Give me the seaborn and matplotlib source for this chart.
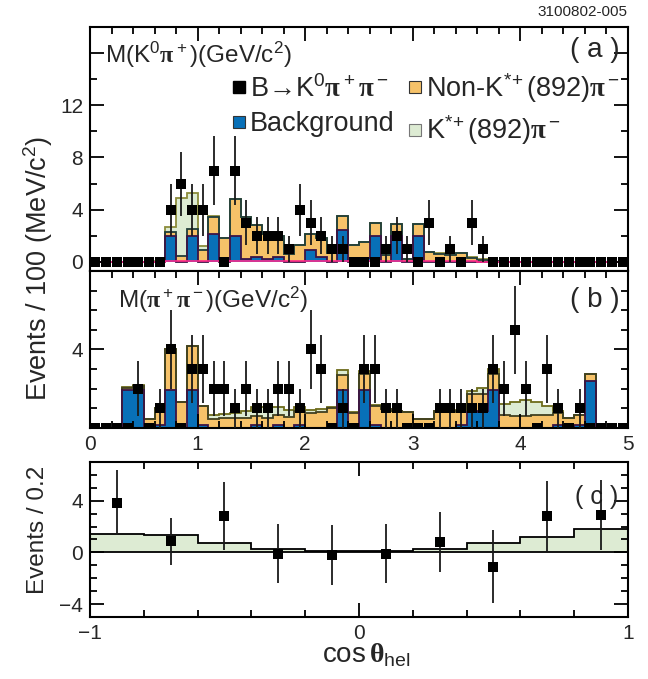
import numpy as np
import pandas as pd
import matplotlib.pyplot as plt
import seaborn as sns
from matplotlib.lines import Line2D
from matplotlib.ticker import MultipleLocator, FixedLocator, FuncFormatter

sns.set_style("ticks")
plt.rcParams['font.family'] = ['Liberation Sans', 'DejaVu Sans']
plt.rcParams['mathtext.fontset'] = 'custom'
plt.rcParams['mathtext.rm'] = 'Liberation Sans'
plt.rcParams['mathtext.it'] = 'Liberation Sans'
plt.rcParams['mathtext.bf'] = 'Liberation Serif:bold'

# 100 MeV bins for the two mass projections, 0.2 bins for cos(theta_hel)
mass_edges = np.linspace(0, 5, 51)
cos_edges = np.linspace(-1, 1, 11)

# (a) M(K0 pi+)
data_a = [0, 0, 0, 0, 0, 0, 0, 4, 6, 4,
          4, 7, 0, 7, 3, 2, 2, 2, 1, 4,
          3, 2, 1, 1, 0, 0, 0, 1, 2, 1,
          0, 3, 0, 1, 0, 3, 1, 0, 0, 0,
          0, 0, 0, 0, 0, 0, 0, 0, 0, 0]
bkg_a = [0, 0, 0, 0, 0, 0, 0, 2.0, 0, 2.0,
         0, 2.15, 0, 2.0, 0.25, 0.4, 0.25, 0.4, 0, 0,
         0.9, 0.4, 0, 2.45, 0, 0.3, 2.0, 0, 2.0, 0,
         2.0, 0, 0, 0, 0, 0, 0, 0, 0, 0,
         0, 0, 0, 0, 0, 0, 0, 0, 0, 0]
nonk_a = [0, 0, 0, 0, 0, 0, 0, 0.3, 0.45, 0.5,
          0.9, 1.28, 1.85, 2.85, 3.15, 2.43, 1.85, 1.6, 0.6, 1.3,
          1.25, 1.4, 0.65, 1.1, 1.32, 1.2, 0.97, 0.5, 0.9, 0.25,
          0.9, 0.76, 0.62, 0.5, 0.69, 0.3, 0.18, 0.05, 0, 0,
          0, 0, 0, 0, 0, 0, 0, 0, 0, 0]
kst_a = [0, 0, 0, 0, 0, 0, 0.1, 0.4, 4.45, 2.77,
         0.3, 0.07, 0, 0, 0, 0, 0, 0, 0, 0,
         0, 0, 0, 0, 0, 0, 0, 0, 0, 0,
         0, 0, 0.07, 0.1, 0, 0.08, 0.05, 0, 0, 0,
         0, 0, 0, 0, 0, 0, 0, 0, 0, 0]
other_a = [0, 0, 0, 0, 0, 0, 0, 0.04, 0.04, 0.04,
           0.04, 0.04, 0.04, 0.04, 0.04, 0.04, 0.04, 0.04, 0.04, 0.04,
           0.04, 0.04, 0.04, 0.04, 0.04, 0.04, 0.04, 0.04, 0.04, 0.04,
           0.04, 0.04, 0.04, 0.04, 0.04, 0.04, 0, 0, 0, 0,
           0, 0, 0, 0, 0, 0, 0, 0, 0, 0]

# (b) M(pi+ pi-)
data_b = [0, 0, 0, 0, 2, 0, 1, 4, 0, 3,
          3, 2, 2, 1, 2, 1, 1, 2, 2, 1,
          4, 3, 0, 1, 0, 3, 3, 1, 1, 0,
          0, 0, 1, 1, 1, 1, 1, 3, 2, 5,
          2, 0, 3, 1, 0, 1, 0, 0, 0, 0]
bkg_b = [0, 0, 0, 1.95, 1.95, 0, 0.15, 1.95, 0, 1.95,
         0.15, 0, 0, 0, 0, 0.15, 0, 0.17, 0, 0.17,
         0, 0, 0, 1.95, 0, 1.95, 0.15, 0, 0, 0,
         0, 0, 0, 0, 0.15, 0.8, 0.85, 1.93, 0, 0,
         0, 0, 0, 0.17, 0, 0.17, 2.4, 0, 0, 0]
nonk_b = [0, 0, 0, 0.1, 0.2, 0.44, 0.85, 2.1, 1.3, 2.22,
          0.97, 0.45, 0.5, 0.5, 0.5, 0.45, 0.5, 0.51, 0.55, 0.68,
          0.75, 0.8, 1.0, 0.77, 0.78, 0.8, 0.98, 0.95, 0.85, 0.83,
          0.45, 0.44, 0.87, 0.87, 0.67, 0.93, 0.9, 0.84, 0.65, 0.62,
          0.62, 0.64, 0.64, 0.58, 0.53, 0.51, 0.33, 0, 0, 0]
kst_b = [0, 0, 0, 0.03, 0.03, 0, 0, 0, 0, 0,
         0, 0.2, 0.22, 0.27, 0.35, 0.46, 0.55, 0.37, 0.35, 0.22,
         0.15, 0.18, 0.05, 0.23, 0.04, 0.15, 0.02, 0.02, 0, 0,
         0, 0, 0, 0.05, 0.05, 0.13, 0.28, 0.23, 0.56, 0.7,
         0.8, 0.66, 0.46, 0.12, 0, 0, 0, 0, 0, 0]

# (c) helicity angle, background subtracted
data_c = [3.85, 0.85, 2.8, -0.1, -0.2, -0.1, 0.8, -1.1, 2.8, 2.9]
err_c = [2.5, 1.8, 2.65, 2.3, 2.3, 2.3, 2.3, 2.85, 2.7, 2.7]
kst_c = [1.45, 1.35, 0.75, 0.3, 0.1, 0.1, 0.3, 0.75, 1.2, 1.85]

C_BKG = '#0870b8'
C_NONK = '#f6c269'
C_KST = '#ddebd3'
palette = {'kst': C_KST, 'nonk': C_NONK, 'bkg': C_BKG}


def draw_stack(ax, bkg, nonk, kst, edges, c_mid, c_top):
    bkg, nonk, kst = np.array(bkg), np.array(nonk), np.array(kst)
    centers = (edges[:-1] + edges[1:]) / 2
    n = len(centers)
    df = pd.DataFrame({'mass': np.tile(centers, 3),
                       'events': np.concatenate([kst, nonk, bkg]),
                       'comp': ['kst'] * n + ['nonk'] * n + ['bkg'] * n})
    # first hue level ends up on top of the stack
    sns.histplot(data=df, x='mass', weights='events', hue='comp',
                 hue_order=['kst', 'nonk', 'bkg'], multiple='stack',
                 bins=edges.tolist(), element='step', palette=palette, alpha=1,
                 linewidth=0, legend=False, ax=ax)
    ax.stairs(bkg + nonk + kst, edges, color=c_top, lw=1.3)
    ax.stairs(bkg + nonk, edges, color=c_mid, lw=1.3)
    ax.stairs(bkg, edges, color='#3c1445', lw=1.3)


def draw_points(ax, x, y, err):
    ax.errorbar(x, y, yerr=err, fmt='none', ecolor='#1a1a1a', elinewidth=1.3, capsize=0, zorder=4)
    sns.scatterplot(x=x, y=y, marker='s', s=42, color='black', linewidth=0, ax=ax, zorder=5)


def style_axis(ax, labelbottom):
    ax.set_axisbelow(False)
    for sp in ax.spines.values():
        sp.set_linewidth(1.5)
        sp.set_visible(True)
        sp.set_color('black')
    ax.tick_params(which='both', direction='in', top=True, right=True, color='black',
                   labelsize=15, width=1.3, pad=5, labelbottom=labelbottom)
    ax.tick_params(which='major', length=10)
    ax.tick_params(which='minor', length=5)
    ax.set_xlabel('')
    ax.set_ylabel('')


fig = plt.figure(figsize=(6.48, 6.79), dpi=100)
ax_a = fig.add_axes([0.1389, 0.6009, 0.8302, 0.3593])
ax_b = fig.add_axes([0.1389, 0.3697, 0.8302, 0.2312])
ax_c = fig.add_axes([0.1389, 0.0913, 0.8302, 0.2283])

mass_centers = (mass_edges[:-1] + mass_edges[1:]) / 2
cos_centers = (cos_edges[:-1] + cos_edges[1:]) / 2

# ---- panel (a)
draw_stack(ax_a, bkg_a, nonk_a, kst_a, mass_edges, '#1f3d3a', '#8c8c3c')
ax_a.stairs(other_a, mass_edges, color='#ff2a8c', lw=1.2)
draw_points(ax_a, mass_centers, np.array(data_a), np.sqrt(data_a))
ax_a.set_xlim(0, 5)
ax_a.set_ylim(-0.7, 18)
ax_a.xaxis.set_major_locator(MultipleLocator(1))
ax_a.xaxis.set_minor_locator(MultipleLocator(0.2))
ax_a.yaxis.set_major_locator(MultipleLocator(4))
ax_a.yaxis.set_minor_locator(MultipleLocator(2))
ax_a.yaxis.set_major_formatter(FuncFormatter(lambda v, p: '' if v > 13 else f'{v:g}'))
style_axis(ax_a, False)
ax_a.tick_params(which='both', bottom=False)

ax_a.text(0.028, 0.885, r"M(K$^0\mathbf{\pi}^+$)(GeV/c$^2$)", transform=ax_a.transAxes,
          fontsize=17.5, va='center', ha='left')
ax_a.text(0.985, 0.906, "( a )", transform=ax_a.transAxes, fontsize=20, va='center', ha='right')

handles = [
    Line2D([], [], marker='s', ls='', ms=8, mfc='black', mec='black'),
    Line2D([], [], marker='s', ls='', ms=8, mfc=C_BKG, mec='#333333', mew=0.8),
    Line2D([], [], marker='s', ls='', ms=8, mfc=C_NONK, mec='#333333', mew=0.8),
    Line2D([], [], marker='s', ls='', ms=8, mfc=C_KST, mec='#777777', mew=0.8),
]
labels = [r"B→K$^0\mathbf{\pi}^+\mathbf{\pi}^-$",
          "Background",
          r"Non-K$^{*\!+}$(892)$\mathbf{\pi}^-$",
          r"K$^{*\!+}$(892)$\mathbf{\pi}^-$"]
ax_a.legend(handles, labels, ncol=2, loc='upper left', bbox_to_anchor=(0.2615, 0.82),
            frameon=False, fontsize=19.5, handlelength=0.6, handletextpad=0.1,
            columnspacing=0.45, labelspacing=0.32, borderaxespad=0, borderpad=0)

# ---- panel (b)
draw_stack(ax_b, bkg_b, nonk_b, kst_b, mass_edges, '#404020', '#6d6b1a')
draw_points(ax_b, mass_centers, np.array(data_b), np.sqrt(data_b))
ax_b.set_xlim(0, 5)
ax_b.set_ylim(0, 8)
ax_b.xaxis.set_major_locator(MultipleLocator(1))
ax_b.xaxis.set_minor_locator(MultipleLocator(0.2))
ax_b.yaxis.set_major_locator(FixedLocator([4]))
ax_b.yaxis.set_minor_locator(MultipleLocator(1))
style_axis(ax_b, True)
ax_b.text(0.052, 0.815, r"M($\mathbf{\pi}^+\mathbf{\pi}^-$)(GeV/c$^2$)", transform=ax_b.transAxes,
          fontsize=17.5, va='center', ha='left')
ax_b.text(0.985, 0.815, "( b )", transform=ax_b.transAxes, fontsize=20, va='center', ha='right')

# ---- panel (c)
dfc = pd.DataFrame({'cos': cos_centers, 'events': kst_c})
sns.histplot(data=dfc, x='cos', weights='events', bins=cos_edges.tolist(), element='step',
             color=C_KST, alpha=1, linewidth=0, ax=ax_c)
ax_c.stairs(kst_c, cos_edges, color='black', lw=1.3)
ax_c.axhline(0, color='black', lw=1.3)
draw_points(ax_c, cos_centers, np.array(data_c), np.array(err_c))
ax_c.set_xlim(-1, 1)
ax_c.set_ylim(-5, 7)
ax_c.xaxis.set_major_locator(MultipleLocator(1))
ax_c.xaxis.set_minor_locator(MultipleLocator(0.2))
ax_c.yaxis.set_major_locator(MultipleLocator(4))
ax_c.yaxis.set_minor_locator(MultipleLocator(1))
style_axis(ax_c, True)
ax_c.text(0.981, 0.774, "( c )", transform=ax_c.transAxes, fontsize=18, va='center', ha='right')

# ---- shared labels
fig.text(0.059, 0.605, r"Events / 100 (MeV/c$^2$)", rotation=90, ha='center', va='center', fontsize=19.5)
fig.text(0.059, 0.219, "Events / 0.2", rotation=90, ha='center', va='center', fontsize=17.5)
fig.text(0.565, 0.024, r"cos$\,\mathbf{\theta}_{\mathrm{hel}}$", ha='center', va='baseline', fontsize=20)
fig.text(0.969, 0.982, "3100802-005", ha='right', va='center', fontsize=11)

fig.savefig('out.png', dpi=100)
